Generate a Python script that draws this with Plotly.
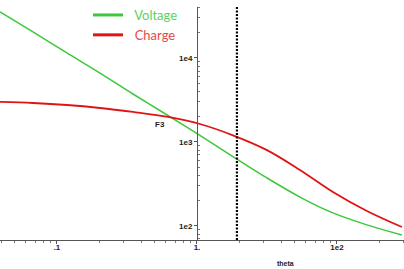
import math
import plotly.graph_objects as go

# ---- data ----
theta = [0.0392, 0.0674, 0.1178, 0.2029, 0.349, 0.621, 1.05, 1.807, 3.162, 5.44, 9.36, 16.38, 29.1]
voltage = [35300, 20400, 11480, 6620, 3727, 2066, 1195, 671, 373, 221, 143, 103, 78]
charge = [2995, 2911, 2756, 2540, 2276, 1986, 1637, 1200, 800, 464, 254, 151, 97.3]

vline_x = 1.93
f3_x, f3_y = 0.545, 1594

x_tickvals = [0.1, 1, 10]
x_ticktext = [".1", "1.", "1e2"]
y_tickvals = [100, 1000, 10000]
y_ticktext = ["1e2", "1e3", "1e4"]

GREEN = "#3cc83c"
RED = "#e01414"

fig = go.Figure()
fig.add_trace(go.Scatter(x=theta, y=voltage, mode="lines",
                         line=dict(color=GREEN, width=1.5, shape="spline", smoothing=1.0),
                         showlegend=False, hoverinfo="skip"))
fig.add_trace(go.Scatter(x=theta, y=charge, mode="lines",
                         line=dict(color=RED, width=1.8, shape="spline", smoothing=1.0),
                         showlegend=False, hoverinfo="skip"))
# legend entries
fig.add_trace(go.Scatter(x=[None], y=[None], mode="lines", line=dict(color=GREEN, width=3),
                         name="<span style='color:#5ed25e'>&nbsp;&nbsp;Voltage</span>"))
fig.add_trace(go.Scatter(x=[None], y=[None], mode="lines", line=dict(color=RED, width=3),
                         name="<span style='color:#e84848'>&nbsp;&nbsp;Charge</span>"))

fig.add_shape(type="line", xref="x", yref="paper", x0=vline_x, x1=vline_x, y0=0, y1=1,
              line=dict(color="black", width=2.2, dash="2px,1.5px"))

# annotations on log axes take log10 positions
fig.add_annotation(x=math.log10(f3_x), y=math.log10(f3_y), xref="x", yref="y", text="<b>F3</b>",
                   showarrow=False, font=dict(family="Liberation Sans", size=8, color="#222"))
fig.add_annotation(x=296 / 404, y=-23 / 233, xref="paper", yref="paper", text="<b>theta</b>",
                   showarrow=False, yanchor="middle",
                   font=dict(family="Liberation Sans", size=7, color="#222"))

x_minor = [m * 10 ** e for e in (-2, -1, 0, 1) for m in range(2, 10)]
y_minor = [m * 10 ** e for e in (1, 2, 3, 4) for m in range(2, 10)]

fig.update_layout(
    width=404, height=269,
    margin=dict(l=0, r=0, t=7, b=29),
    paper_bgcolor="white", plot_bgcolor="white",
    legend=dict(x=88 / 404, y=1.03, xanchor="left", yanchor="top",
                font=dict(family="Lato", size=13), bgcolor="rgba(0,0,0,0)",
                tracegroupgap=0, itemwidth=30),
    xaxis=dict(type="log", range=[-1.407, 1.479], showgrid=False, zeroline=False,
               showline=True, linecolor="#555", linewidth=1,
               tickmode="array", tickvals=x_tickvals, ticktext=["<b>%s</b>" % t for t in x_ticktext],
               ticks="outside", ticklen=3, tickcolor="#555", ticklabelstandoff=-4,
               tickfont=dict(family="Liberation Sans", size=8, color="#222"),
               minor=dict(tickmode="array", tickvals=x_minor, ticks="outside", ticklen=2, tickcolor="#777")),
    yaxis=dict(type="log", range=[1.833, 4.607], showgrid=False, zeroline=False,
               anchor="free", position=197 / 404,
               showline=True, linecolor="#555", linewidth=1,
               tickmode="array", tickvals=y_tickvals, ticktext=["<b>%s</b>" % t for t in y_ticktext],
               ticks="outside", ticklen=3, tickcolor="#555",
               tickfont=dict(family="Liberation Sans", size=8, color="#222"),
               minor=dict(tickmode="array", tickvals=y_minor, ticks="inside", ticklen=2, tickcolor="#777")),
)

fig.write_html("out.html")
